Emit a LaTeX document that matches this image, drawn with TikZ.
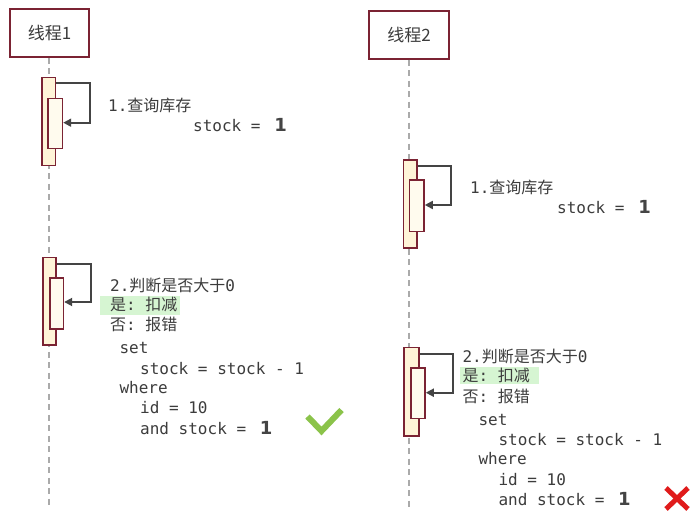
\documentclass[tikz,border=0pt]{standalone}
\usepackage{fontspec}
\setmonofont{DejaVu Sans Mono}
\newfontfamily\cjk{Noto Sans CJK SC}
\newcommand\zh[1]{{\cjk #1}}
\newcommand\one{\hspace{4pt}{\fontspec{DejaVu Sans Bold}\fontsize{18}{20}\selectfont\color{txtdark}1}}
\usetikzlibrary{arrows.meta}
\definecolor{boxred}{HTML}{7B2333}
\definecolor{actfill}{HTML}{FFF4D8}
\definecolor{actin}{HTML}{FFFBEE}
\definecolor{txt}{HTML}{3C3C3C}
\definecolor{txtdark}{HTML}{444444}
\definecolor{lifegray}{HTML}{AAAAAA}
\definecolor{hlgreen}{HTML}{D6F5D2}
\definecolor{okgreen}{HTML}{8BC34A}
\definecolor{nored}{HTML}{E01B1B}
\begin{document}
\begin{tikzpicture}[x=1pt,y=-1pt,
  hdr/.style={draw=boxred,line width=1.6pt,fill=white,minimum width=79pt,minimum height=48pt,inner sep=0pt,
    font=\cjk\fontsize{17}{20}\selectfont,text=txt},
  life/.style={draw=lifegray,line width=1.4pt,dash pattern=on 6pt off 4.5pt},
  actbox/.style={draw=boxred,line width=1.5pt,fill=actfill,anchor=north west,inner sep=0pt},
  actinbox/.style={draw=boxred,line width=1.5pt,fill=actin,anchor=north west,inner sep=0pt},
  msg/.style={draw=txtdark,line width=1.8pt,-{Triangle[length=8pt,width=8pt]}},
  txtline/.style={anchor=base west,inner sep=0pt,text=txt,font=\ttfamily\fontsize{16}{19}\selectfont},
  hl/.style={fill=hlgreen,draw=none,anchor=north west,inner sep=0pt},
  okmark/.style={draw=okgreen,line width=6pt,line cap=butt,line join=miter},
  nomark/.style={draw=nored,line width=5pt},
]
\useasboundingbox (0,0) rectangle (699,521);
\fill[white] (0,0) rectangle (699,521);

% headers
\node[hdr] (t1) at (49.5,33) {线程1};
\node[hdr,minimum width=80pt] (t2) at (409,34.8) {线程2};

% lifelines
\coordinate (e1) at (49,506);
\coordinate (e2) at (409,507);
\draw[life] (t1.south -| e1) -- (e1);
\draw[life] (t2.south -| e2) -- (e2);

% highlights
\node[hl,minimum width=80pt,minimum height=19pt] (h1) at (100,296) {};
\node[hl,minimum width=79pt,minimum height=17pt] (h2) at (460,366.7) {};

% thread 1, step 1
\node[actbox,minimum width=13.4pt,minimum height=88.3pt] (a1) at (41.3,76.7) {};
\node[actinbox,minimum width=14.4pt,minimum height=50.3pt] (a1i) at (47.3,97.7) {};
\draw[msg] (a1.east |- 0,83.3) -| (89.7,122.7) -- (a1i.east |- 0,122.7);
\node[txtline] (l11) at (108,112) {1.\zh{查询库存}};
\node[txtline] (l12) at (193,132) {stock = \one};

% thread 1, step 2
\node[actbox,minimum width=13.4pt,minimum height=87.6pt] (b1) at (42,256.7) {};
\node[actinbox,minimum width=13.4pt,minimum height=51pt] (b1i) at (49.3,277.3) {};
\draw[msg] (b1.east |- 0,264) -| (91.3,302) -- (b1i.east |- 0,302);
\node[txtline] (m11) at (110,291.7) {2.\zh{判断是否大于}0};
\node[txtline] (m12) at (110,311) {\zh{是}: \zh{扣减}};
\node[txtline] (m13) at (110,331) {\zh{否}: \zh{报错}};
\node[txtline] (m14) at (119.3,354) {set};
\node[txtline] (m15) at (140,374) {stock = stock - 1};
\node[txtline] (m16) at (119.3,393.7) {where};
\node[txtline] (m17) at (140,413.7) {id = 10};
\node[txtline] (m18) at (140,434.3) {and stock = \one};

% check mark
\coordinate (c1) at (307.5,416.5);
\coordinate (c2) at (321.5,431);
\coordinate (c3) at (341.5,410);
\draw[okmark] (c1) -- (c2) -- (c3);

% thread 2, step 1
\node[actbox,minimum width=13.6pt,minimum height=88pt] (a2) at (402.7,159.3) {};
\node[actinbox,minimum width=14.6pt,minimum height=51.4pt] (a2i) at (408.7,179.3) {};
\draw[msg] (a2.east |- 0,166) -| (451.3,205) -- (a2i.east |- 0,205);
\node[txtline] (l21) at (470,194) {1.\zh{查询库存}};
\node[txtline] (l22) at (557,214) {stock = \one};

% thread 2, step 2
\node[actbox,minimum width=14.7pt,minimum height=88.3pt] (b2) at (403.3,346.7) {};
\node[actinbox,minimum width=14pt,minimum height=50.4pt] (b2i) at (410.3,367.3) {};
\draw[msg] (b2.east |- 0,354) -| (453.3,392.7) -- (b2i.east |- 0,392.7);
\node[txtline] (m21) at (462.3,362.7) {2.\zh{判断是否大于}0};
\node[txtline] (m22) at (462.3,381.7) {\zh{是}: \zh{扣减}};
\node[txtline] (m23) at (462.3,402.7) {\zh{否}: \zh{报错}};
\node[txtline] (m24) at (478.3,425.3) {set};
\node[txtline] (m25) at (498.3,445.3) {stock = stock - 1};
\node[txtline] (m26) at (478.3,464.3) {where};
\node[txtline] (m27) at (498.3,485) {id = 10};
\node[txtline] (m28) at (498.3,505) {and stock = \one};

% red cross
\coordinate (x1) at (666,488);
\coordinate (x2) at (688,509);
\coordinate (x3) at (688,488);
\coordinate (x4) at (666,509);
\draw[nomark] (x1) -- (x2);
\draw[nomark] (x3) -- (x4);
\end{tikzpicture}
\end{document}
